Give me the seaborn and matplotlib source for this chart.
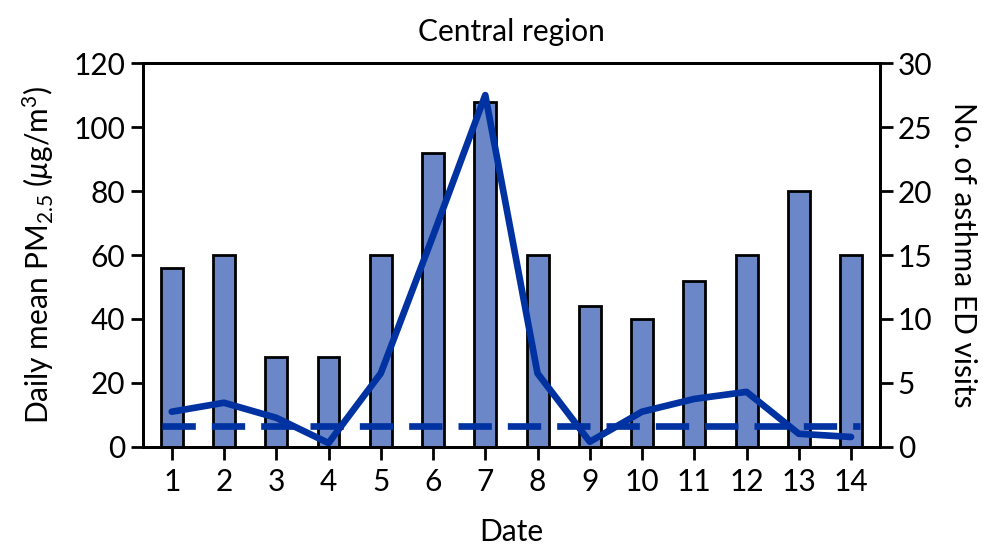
import matplotlib
matplotlib.use("Agg")
import matplotlib.pyplot as plt
import seaborn as sns

# Data
dates = [1, 2, 3, 4, 5, 6, 7, 8, 9, 10, 11, 12, 13, 14]
asthma_visits = [14, 15, 7, 7, 15, 23, 27, 15, 11, 10, 13, 15, 20, 15]
pm25 = [11.0, 13.8, 9.1, 1.2, 23.0, 66.0, 110.0, 23.0, 1.6, 11.0, 15.0, 17.2, 4.1, 3.1]
pm25_baseline = 6.5

sns.set_theme(style="ticks")
plt.rcParams['font.family'] = ['Lato', 'DejaVu Sans']
plt.rcParams['mathtext.fontset'] = 'custom'
plt.rcParams['mathtext.rm'] = 'Lato'
plt.rcParams['mathtext.it'] = 'Lato:italic'
plt.rcParams['text.color'] = 'black'
plt.rcParams['axes.labelcolor'] = 'black'

bar_color = '#6b87c7'
line_color = '#0033a1'
fs = 21.5

fig = plt.figure(figsize=(9.83, 5.49), dpi=100)
ax = fig.add_axes([0.1455, 0.186, 0.7495, 0.699])
ax2 = ax.twinx()

# bars = asthma ED visits (right axis)
sns.barplot(x=dates, y=asthma_visits, ax=ax2, native_scale=True, width=0.42,
            color=bar_color, saturation=1, edgecolor='black', linewidth=2.0)

# line = PM2.5 (left axis), drawn on top
sns.lineplot(x=dates, y=pm25, ax=ax, color=line_color, linewidth=4.8,
             solid_capstyle='round')
ax.plot([0.82, 14.18], [pm25_baseline, pm25_baseline], color=line_color,
        linewidth=4.8, dashes=(5.0, 2.4))

ax.set_zorder(ax2.get_zorder() + 1)
ax.patch.set_visible(False)

ax.set_xlim(0.45, 14.55)
ax.set_ylim(0, 120)
ax2.set_ylim(0, 30)
ax.set_yticks(range(0, 121, 20))
ax2.set_yticks(range(0, 31, 5))
ax.set_xticks(dates)
ax.set_xticklabels([str(d) for d in dates])

for a in (ax, ax2):
    for s in a.spines.values():
        s.set_linewidth(2.0)
        s.set_color('black')
    a.tick_params(axis='both', length=9, width=2.0, labelsize=fs, color='black',
                  labelcolor='black', pad=4)
ax.tick_params(axis='x', pad=6)

ax.set_xlabel('Date', fontsize=fs, labelpad=16)
ax.set_ylabel('Daily mean PM$_{2.5}$ ($\\mu$g/m$^3$)', fontsize=fs, labelpad=12)
ax2.set_ylabel('No. of asthma ED visits', fontsize=fs, rotation=270, labelpad=32)
ax.set_title('Central region', fontsize=fs, pad=16)

fig.savefig('out.png', dpi=100)
